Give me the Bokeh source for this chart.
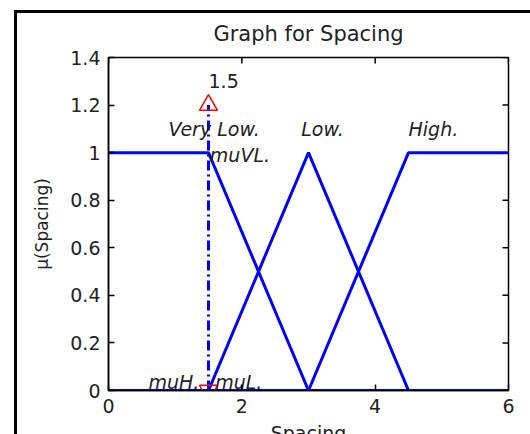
import numpy as np
from bokeh.plotting import figure
from bokeh.models import Range1d, FixedTicker, ColumnDataSource
from bokeh.core.properties import value
from bokeh.embed import file_html
from bokeh.resources import INLINE

# ---- data ----
vl_x = [0, 1.5, 3, 6]
vl_y = [1, 1, 0, 0]
l_x = [0, 1.5, 3, 4.5, 6]
l_y = [0, 0, 1, 0, 0]
h_x = [0, 3, 4.5, 6]
h_y = [0, 0, 1, 1]
input_x = 1.5
input_top = 1.2
x_ticks = [0, 2, 4, 6]
y_ticks = [0, 0.2, 0.4, 0.6, 0.8, 1, 1.2, 1.4]
y_tick_labels = ["0", "0.2", "0.4", "0.6", "0.8", "1", "1.2", "1.4"]
term_names = ["Very Low.", "Low.", "High."]
term_x = [0.9, 2.89, 4.5]
term_y = [1.1, 1.1, 1.1]
mu_names = ["muVL.", "muH.", "muL."]
mu_x = [1.52, 0.6, 1.6]
mu_y = [0.99, 0.035, 0.035]

FONT = "DejaVu Sans"
BLUE = "#0000ff"
INK = "#222222"
X0, X1, Y0, Y1 = 0, 6, 0, 1.4

p = figure(width=530, height=446, output_backend="svg", toolbar_location=None,
           x_range=Range1d(X0, X1), y_range=Range1d(Y0, Y1),
           min_border_left=108, min_border_right=22, min_border_top=57,
           min_border_bottom=56, background_fill_color="white",
           border_fill_color=None, title="Graph for Spacing")
# outer figure frame (left and top edges) drawn as the page background
p.styles = {"background": "linear-gradient(#000, #000) 14px 10px / 3px 100% no-repeat, "
                          "linear-gradient(#000, #000) 14px 10px / 100% 3px no-repeat, "
                          "#ffffff"}
p.grid.visible = False
p.outline_line_color = "black"
p.outline_line_width = 1.5

p.title.text_font = FONT
p.title.text_font_size = "21px"
p.title.text_font_style = "normal"
p.title.text_color = INK
p.title.align = "center"
p.title.standoff = 23

for ax in (p.xaxis[0], p.yaxis[0]):
    ax.major_tick_in = 6
    ax.major_tick_out = 0
    ax.minor_tick_line_color = None
    ax.axis_line_color = "black"
    ax.axis_line_width = 1.5
    ax.major_tick_line_color = "black"
    ax.major_tick_line_width = 1.5
    ax.major_label_text_font = FONT
    ax.major_label_text_font_size = "19px"
    ax.major_label_text_color = INK
    ax.major_label_standoff = 8
    ax.axis_label_text_font = FONT
    ax.axis_label_text_font_style = "normal"
    ax.axis_label_text_color = INK

p.xaxis.ticker = FixedTicker(ticks=x_ticks)
p.yaxis.ticker = FixedTicker(ticks=y_ticks)
p.yaxis.major_label_overrides = {t: s for t, s in zip(y_ticks, y_tick_labels)}
p.yaxis.axis_label = "μ(Spacing)"
p.yaxis.axis_label_text_font_size = "17px"
p.yaxis.axis_label_standoff = 15
p.xaxis.axis_label = "Spacing"
p.xaxis.axis_label_text_font_size = "19px"
p.xaxis.axis_label_standoff = 6

# inward ticks on the top and right edges of the box
tx = 6 * (X1 - X0) / 400
ty = 6 * (Y1 - Y0) / 333
p.segment(x0=x_ticks, y0=[Y1] * len(x_ticks), x1=x_ticks,
          y1=[Y1 - ty] * len(x_ticks), line_color="black", line_width=1.5)
p.segment(x0=[X1] * len(y_ticks), y0=y_ticks, x1=[X1 - tx] * len(y_ticks),
          y1=y_ticks, line_color="black", line_width=1.5)

# membership functions
for xs, ys in [(vl_x, vl_y), (l_x, l_y), (h_x, h_y)]:
    p.line(xs, ys, line_color=BLUE, line_width=3)

# small dark dashes at the left baseline
p.line([0.05, 0.62], [0, 0], line_color="#333333", line_width=1.5, line_dash="8 5")

# input line and markers
p.line([input_x, input_x], [0, input_top], line_color=BLUE, line_width=3,
       line_dash="10 4 2 4")
p.scatter([input_x], [input_top], marker="triangle", size=18, fill_color=None,
          line_color="red", line_width=1.5)
p.scatter([input_x], [0], marker="inverted_triangle", size=18, fill_color=None,
          line_color="red", line_width=1.5)

src_t = ColumnDataSource(dict(x=term_x, y=term_y, t=term_names))
p.text("x", "y", text="t", source=src_t, text_font=value(FONT),
       text_font_style="italic", text_font_size="19px", text_color=INK,
       text_baseline="middle", text_align="left")
src_m = ColumnDataSource(dict(x=mu_x, y=mu_y, t=mu_names))
p.text("x", "y", text="t", source=src_m, text_font=value(FONT),
       text_font_style="italic", text_font_size="19px", text_color=INK,
       text_baseline="middle", text_align="left")
p.text([input_x], [1.30], text=[str(input_x)], text_font=value(FONT),
       text_font_size="19px", text_color=INK, text_baseline="middle",
       text_align="left")

open("out.html", "w").write(file_html(p, INLINE))
